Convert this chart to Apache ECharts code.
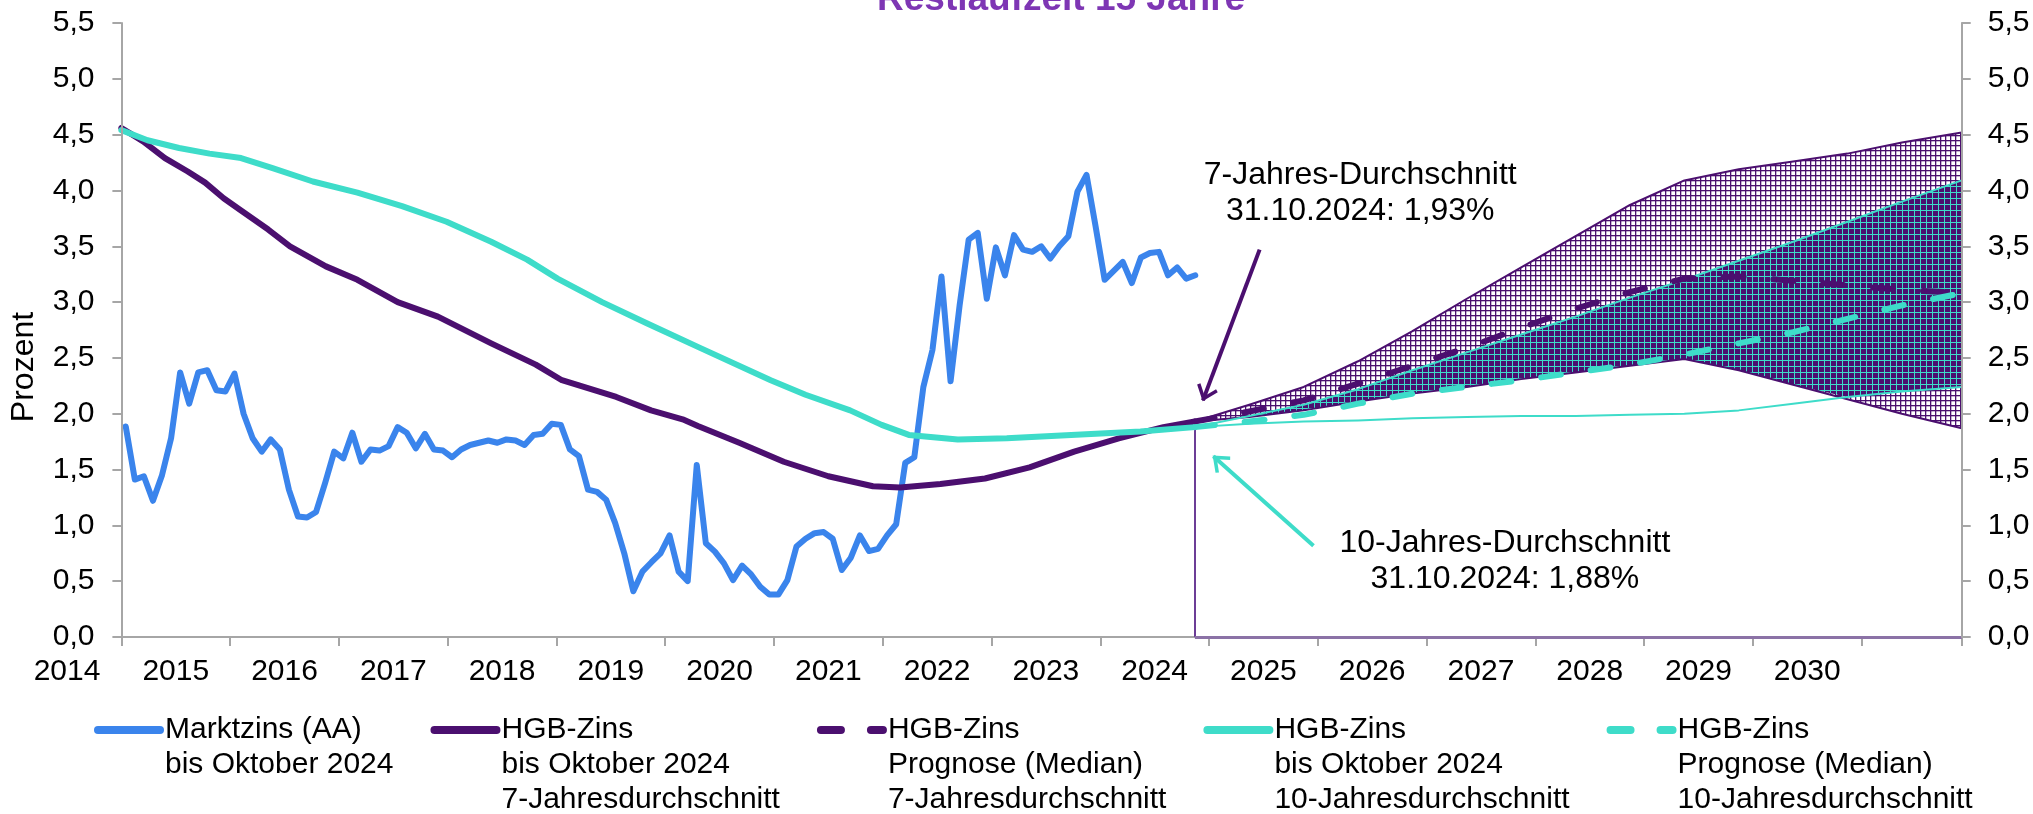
<!DOCTYPE html>
<html>
<head>
<meta charset="utf-8">
<title>Restlaufzeit 15 Jahre</title>
<script src="https://cdn.jsdelivr.net/npm/echarts@6/dist/echarts.min.js"></script>
<style>
html, body { margin: 0; padding: 0; background: #fff; }
#chart { width: 2033px; height: 814px; }
</style>
</head>
<body>
<div id="chart"></div>
<script>
// Marktzins (AA), Monatswerte ab Januar 2015 bis Oktober 2024
const marktzinsStart = 2015.04
const marktzins = [
  1.885, 1.41, 1.44, 1.22, 1.45, 1.78, 2.37, 2.09, 2.37, 2.39,
  2.21, 2.20, 2.36, 2.00, 1.78, 1.66, 1.77, 1.68, 1.32, 1.08,
  1.07, 1.12, 1.38, 1.66, 1.60, 1.83, 1.57, 1.68, 1.67, 1.71,
  1.88, 1.83, 1.69, 1.82, 1.68, 1.67, 1.61, 1.68, 1.72, 1.74,
  1.76, 1.74, 1.77, 1.76, 1.72, 1.81, 1.82, 1.91, 1.90, 1.68,
  1.62, 1.32, 1.30, 1.23, 1.02, 0.75, 0.41, 0.585, 0.67, 0.75,
  0.91, 0.585, 0.50, 1.54, 0.84, 0.765, 0.66, 0.51, 0.64, 0.56,
  0.45, 0.38, 0.38, 0.51, 0.81, 0.88, 0.93, 0.94, 0.88, 0.60,
  0.71, 0.91, 0.77, 0.79, 0.91, 1.01, 1.56, 1.61, 2.24, 2.57,
  3.23, 2.29, 2.97, 3.56, 3.62, 3.03, 3.49, 3.24, 3.60, 3.47,
  3.45, 3.50, 3.39, 3.50, 3.59, 3.99, 4.14, 3.68, 3.20, 3.28,
  3.36, 3.17, 3.40, 3.44, 3.45, 3.24, 3.31, 3.21, 3.24
]

// HGB-Zins 7-Jahresdurchschnitt bis Oktober 2024
const hgb7Years = [2015.0, 2015.2, 2015.4, 2015.61, 2015.77, 2015.94, 2016.1, 2016.35, 2016.55, 2016.88,
  2017.17, 2017.54, 2017.91, 2018.4, 2018.81, 2019.05, 2019.55, 2019.87, 2020.16, 2020.3,
  2020.68, 2021.09, 2021.5, 2021.91, 2022.16, 2022.53, 2022.94, 2023.35, 2023.76, 2024.17, 2024.58, 2024.87]
const hgb7 = [4.56, 4.44, 4.29, 4.17, 4.07, 3.93, 3.82, 3.65, 3.50, 3.32,
  3.20, 3.00, 2.87, 2.63, 2.44, 2.30, 2.15, 2.03, 1.95, 1.89,
  1.74, 1.57, 1.44, 1.35, 1.34, 1.37, 1.42, 1.52, 1.66, 1.78, 1.88, 1.93]

// HGB-Zins 10-Jahresdurchschnitt bis Oktober 2024
const hgb10Years = [2015.0, 2015.24, 2015.53, 2015.81, 2016.1, 2016.39, 2016.76, 2017.17, 2017.58, 2017.99,
  2018.4, 2018.73, 2019.01, 2019.42, 2019.83, 2020.32, 2020.97, 2021.29, 2021.7, 2021.99,
  2022.24, 2022.69, 2023.14, 2023.55, 2023.96, 2024.37, 2024.87]
const hgb10 = [4.54, 4.45, 4.38, 4.33, 4.29, 4.20, 4.08, 3.98, 3.86, 3.72,
  3.54, 3.38, 3.21, 3.00, 2.81, 2.59, 2.30, 2.17, 2.03, 1.90,
  1.81, 1.77, 1.78, 1.80, 1.82, 1.84, 1.88]

// Prognose ab 31.10.2024
const prognoseYears = [2024.87, 2025.37, 2025.87, 2026.37, 2026.87, 2027.37, 2027.87, 2028.37,
  2028.87, 2029.37, 2029.87, 2030.37, 2030.87, 2031.37, 2031.92]
const prog7Median = [1.93, 2.02, 2.12, 2.27, 2.43, 2.59, 2.77, 2.94, 3.09, 3.21, 3.23, 3.19, 3.15, 3.11, 3.08]
const prog7Upper = [1.93, 2.08, 2.24, 2.47, 2.74, 3.03, 3.31, 3.59, 3.87, 4.09, 4.19, 4.26, 4.33, 4.43, 4.52]
const prog7Lower = [1.93, 1.97, 2.03, 2.11, 2.18, 2.24, 2.31, 2.37, 2.43, 2.49, 2.39, 2.26, 2.13, 2.00, 1.87]
const prog10Median = [1.88, 1.93, 1.99, 2.09, 2.18, 2.24, 2.30, 2.37, 2.44, 2.53, 2.63, 2.73, 2.85, 2.97, 3.08]
const prog10Upper = [1.88, 1.98, 2.08, 2.22, 2.39, 2.55, 2.71, 2.87, 3.04, 3.20, 3.37, 3.54, 3.72, 3.90, 4.09]
const prog10Lower = [1.88, 1.91, 1.93, 1.94, 1.96, 1.97, 1.98, 1.98, 1.99, 2.00, 2.03, 2.09, 2.15, 2.20, 2.24]

const yearLabels = ['2014', '2015', '2016', '2017', '2018', '2019', '2020', '2021', '2022',
  '2023', '2024', '2025', '2026', '2027', '2028', '2029', '2030']

const stichtag = 2024.87

const FONT = 'Liberation Sans'
const PURPLE = '#4B0F6F'
const TEAL = '#3EDCC9'
const BLUE = '#3A84EC'
const AXIS = '#A6A6A6'

const names = [
  'Marktzins (AA)\nbis Oktober 2024',
  'HGB-Zins\nbis Oktober 2024\n7-Jahresdurchschnitt',
  'HGB-Zins\nPrognose (Median)\n7-Jahresdurchschnitt',
  'HGB-Zins\nbis Oktober 2024\n10-Jahresdurchschnitt',
  'HGB-Zins\nPrognose (Median)\n10-Jahresdurchschnitt'
]

/* Schraffur als kleine Kachel */
function hatch(bg, fg, size, lw) {
  const c = document.createElement('canvas')
  c.width = size
  c.height = size
  const g = c.getContext('2d')
  if (bg) {
    g.fillStyle = bg
    g.fillRect(0, 0, size, size)
  }
  g.fillStyle = fg
  g.fillRect(0, 0, size, lw)
  g.fillRect(0, 0, lw, size)
  return { image: c, repeat: 'repeat' }
}

const pairs = (xs, ys) => xs.map((x, i) => [x, ys[i]])
const fmt = v => v.toFixed(1).replace('.', ',')
const pct = v => v.toFixed(2).replace('.', ',') + '%'

// Schnittmenge der beiden Prognosebänder
const overlapLow = prognoseYears.map((x, i) => Math.max(prog7Lower[i], prog10Lower[i]))
const overlapHigh = prognoseYears.map((x, i) => Math.max(overlapLow[i], Math.min(prog7Upper[i], prog10Upper[i])))

function band(upper, lower, fill, z) {
  return {
    type: 'custom', z: z, silent: true,
    data: [[prognoseYears[0], lower[0]]],
    renderItem: (params, api) => {
      const top = prognoseYears.map((x, i) => api.coord([x, upper[i]]))
      const bottom = prognoseYears.map((x, i) => api.coord([x, lower[i]])).reverse()
      return { type: 'polygon', shape: { points: top.concat(bottom) }, style: { fill: fill, stroke: null } }
    }
  }
}

function line(name, data, color, width, dash, z) {
  return {
    name: name, type: 'line', data: data, z: z, symbol: 'none', silent: true,
    itemStyle: { color: color },
    lineStyle: { color: color, width: width, type: dash || 'solid', cap: 'round', join: 'round' }
  }
}

const chevron = 'path://M10,0 L20,12 L17.6,14 L10,5 L2.4,14 L0,12 Z'

const chart = echarts.init(document.getElementById('chart'))

const tealHist = line(names[3], pairs(hgb10Years, hgb10), TEAL, 6, null, 6)
tealHist.markLine = {
  silent: true, label: { show: false },
  symbol: ['none', chevron], symbolSize: [22, 16],
  data: [
    [{ coord: [2025.465, 3.47], lineStyle: { color: PURPLE, width: 4, type: 'solid' } },
     { coord: [2024.944, 2.12], symbolOffset: [0, 7] }],
    [{ coord: [2025.96, 0.818], lineStyle: { color: TEAL, width: 4, type: 'solid' } },
     { coord: [2025.04, 1.62], symbolOffset: [0, 7] }],
    [{ coord: [stichtag, 0], symbol: 'none', lineStyle: { color: '#6C3D96', width: 2, type: 'solid' } },
     { coord: [stichtag, hgb10[hgb10.length - 1]], symbol: 'none' }],
    [{ coord: [stichtag, 0], symbol: 'none', lineStyle: { color: '#8B72A6', width: 3, type: 'solid' } },
     { coord: [2031.92, 0], symbol: 'none' }]
  ]
}
tealHist.markPoint = {
  silent: true, symbol: 'circle', symbolSize: 0,
  label: { show: true, position: 'inside', fontSize: 32, lineHeight: 36, color: '#000', fontFamily: FONT, align: 'center' },
  data: [
    { coord: [2026.39, 3.98], label: { formatter: '7-Jahres-Durchschnitt\n31.10.2024: ' + pct(hgb7[hgb7.length - 1]) } },
    { coord: [2027.72, 0.68], label: { formatter: '10-Jahres-Durchschnitt\n31.10.2024: ' + pct(hgb10[hgb10.length - 1]) } }
  ]
}

const option = {
  animation: false,
  textStyle: { fontFamily: FONT },
  graphic: [{
    type: 'text', left: 877, top: -19, silent: true,
    style: { text: 'Restlaufzeit 15 Jahre', fill: '#7E36B4', font: 'bold 37px "Liberation Sans"' }
  }],
  grid: { left: 121.4, right: 71.3, top: 23, bottom: 177 },
  legend: {
    left: 94, top: 642.5, padding: 0, orient: 'horizontal',
    itemWidth: 62, itemHeight: 14, itemGap: 37, selectedMode: false,
    lineStyle: { width: 8, cap: 'round' },
    itemStyle: { opacity: 0 },
    textStyle: { fontSize: 30, lineHeight: 35, color: '#000', fontFamily: FONT },
    // leere Zeilen davor, damit die erste Zeile auf Höhe des Symbols steht
    formatter: n => '\n'.repeat(n.split('\n').length - 1) + n,
    data: names
  },
  xAxis: {
    type: 'value', min: 2015, max: 2031.92, interval: 1,
    axisLine: { show: true, onZero: false, lineStyle: { color: AXIS, width: 2 } },
    axisTick: { show: true, length: 9, lineStyle: { color: AXIS, width: 2 } },
    splitLine: { show: false },
    axisLabel: {
      margin: 20, showMinLabel: true, showMaxLabel: true,
      formatter: v => {
        const r = Math.round(v)
        const k = r - 2015
        if (Math.abs(v - r) > 1e-6 || k < 0 || k >= yearLabels.length) return ''
        return '{y|' + yearLabels[k] + '}'
      },
      rich: { y: { fontSize: 30, color: '#000', fontFamily: FONT, padding: [0, 108.8, 0, 0] } }
    }
  },
  yAxis: [{
    type: 'value', min: 0, max: 5.5, interval: 0.5, position: 'left', z: 10,
    axisLine: { show: true, lineStyle: { color: AXIS, width: 2 } },
    axisTick: { show: true, length: 9, lineStyle: { color: AXIS, width: 2 } },
    splitLine: { show: false },
    axisLabel: { margin: 27, fontSize: 30, color: '#000', fontFamily: FONT, formatter: fmt },
    name: 'Prozent', nameLocation: 'middle', nameRotate: 90, nameGap: 81,
    nameTextStyle: { fontSize: 32, color: '#000', fontFamily: FONT, padding: [0, 74, 0, 0] }
  }, {
    type: 'value', min: 0, max: 5.5, interval: 0.5, position: 'right', z: 10,
    axisLine: { show: true, lineStyle: { color: AXIS, width: 2 } },
    axisTick: { show: true, length: 9, lineStyle: { color: AXIS, width: 2 } },
    splitLine: { show: false },
    axisLabel: { margin: 26, fontSize: 30, color: '#000', fontFamily: FONT, formatter: fmt }
  }],
  series: [
    band(prog7Upper, prog7Lower, hatch(null, PURPLE, 5, 1.3), 2),
    band(overlapHigh, overlapLow, hatch(PURPLE, TEAL, 6, 1), 2),
    line('p7o', pairs(prognoseYears, prog7Upper), PURPLE, 2, null, 3),
    line('p7u', pairs(prognoseYears, prog7Lower), PURPLE, 2, null, 3),
    line('p10o', pairs(prognoseYears, prog10Upper), TEAL, 2, null, 3),
    line('p10u', pairs(prognoseYears, prog10Lower), TEAL, 2, null, 3),
    line(names[0], marktzins.map((v, i) => [marktzinsStart + i / 12, v]), BLUE, 6, null, 4),
    line(names[1], pairs(hgb7Years, hgb7), PURPLE, 6, null, 5),
    tealHist,
    line(names[2], pairs(prognoseYears, prog7Median), PURPLE, 6, [20, 30], 7),
    line(names[4], pairs(prognoseYears, prog10Median), TEAL, 6, [20, 30], 7)
  ]
}

chart.setOption(option)
</script>
</body>
</html>
